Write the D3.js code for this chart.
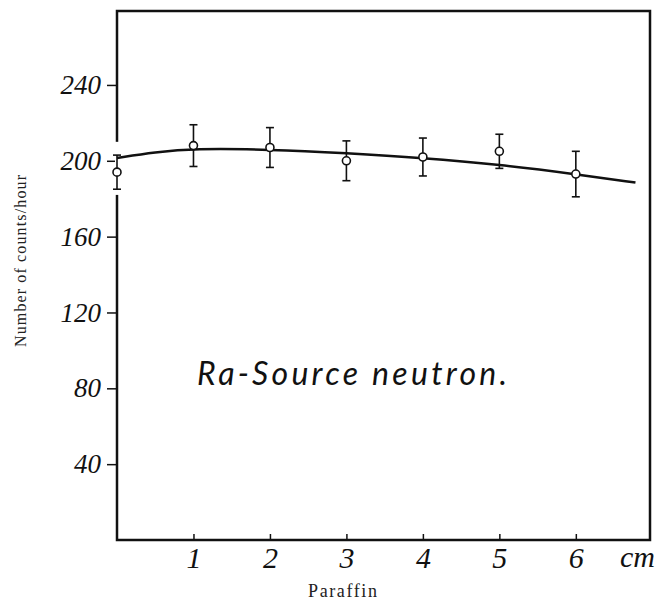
<!DOCTYPE html>
<head>
  <meta charset="utf-8">
  <script src="https://d3js.org/d3.v7.min.js"></script>
  <style>
    body { margin: 0; background: #fff; }
    .tick text { font-family: 'Liberation Serif', serif; font-style: italic; fill: #111; }
    .domain { display: none; }
  </style>
</head>
<body>
  <div id="my_dataviz"></div>
  <script>
    // paraffin thickness (cm) and measured counts/hour
    var thickness = [0, 1, 2, 3, 4, 5, 6];
    var counts = [194, 208, 207, 200, 202, 205, 193];
    var errors = [9, 11, 10.5, 10.5, 10, 9, 12];

    // smooth fitted curve
    var curveX = [0, 0.5, 1, 2, 3, 4, 5, 6, 6.78];
    var curveY = [201.5, 204.5, 206.5, 206, 204, 201.5, 198, 193, 188.5];

    var yTicks = [40, 80, 120, 160, 200, 240];
    var xTicks = [1, 2, 3, 4, 5, 6];

    var margin = {top: 11, right: 12, bottom: 61, left: 117},
      width = 662 - margin.left - margin.right,
      height = 601 - margin.top - margin.bottom;

    var svg = d3.select("#my_dataviz")
      .append("svg")
      .attr("width", 662)
      .attr("height", 601);

    var g = svg.append("g")
      .attr("transform", "translate(" + margin.left + "," + margin.top + ")");

    var x = d3.scaleLinear()
      .domain([0, 6.97])
      .range([0, width]);

    var y = d3.scaleLinear()
      .domain([0, 279])
      .range([height, 0]);

    // y axis ticks
    var yAxis = g.append("g")
      .call(d3.axisLeft(y)
        .tickValues(yTicks)
        .tickSize(10)
        .tickPadding(6));
    yAxis.selectAll(".tick line").attr("stroke", "#111").attr("stroke-width", 1.5);
    yAxis.selectAll(".tick text").style("font-size", "27px");

    // x axis ticks (pointing inward)
    var xAxis = g.append("g")
      .attr("transform", "translate(0," + height + ")")
      .call(d3.axisBottom(x)
        .tickValues(xTicks)
        .tickFormat(d3.format("d"))
        .tickSize(-6)
        .tickPadding(7));
    xAxis.selectAll(".tick line").attr("stroke", "#111").attr("stroke-width", 1.5);
    xAxis.selectAll(".tick text").style("font-size", "30px");

    // frame
    g.append("path")
      .attr("d", "M0,0H" + width + "V" + height + "H0Z")
      .attr("fill", "none")
      .attr("stroke", "#111")
      .attr("stroke-width", 2.5);

    // gap in the left axis around the first error bar
    g.append("line")
      .attr("x1", x(0)).attr("x2", x(0))
      .attr("y1", y(210)).attr("y2", y(182))
      .attr("stroke", "#fff")
      .attr("stroke-width", 4);

    // fitted curve
    var line = d3.line()
      .x(d => x(d[0]))
      .y(d => y(d[1]))
      .curve(d3.curveBasis);

    g.append("path")
      .datum(d3.zip(curveX, curveY))
      .attr("d", line)
      .attr("fill", "none")
      .attr("stroke", "#111")
      .attr("stroke-width", 2.5);

    // error bars
    var pts = thickness.map((t, i) => ({t: t, v: counts[i], e: errors[i]}));

    var bars = g.append("g")
      .selectAll("g")
      .data(pts)
      .enter()
      .append("g")
      .attr("stroke", "#111")
      .attr("stroke-width", 1.6);

    bars.append("line")
      .attr("x1", d => x(d.t)).attr("x2", d => x(d.t))
      .attr("y1", d => y(d.v + d.e)).attr("y2", d => y(d.v - d.e));
    bars.append("line")
      .attr("x1", d => x(d.t) - 4).attr("x2", d => x(d.t) + 4)
      .attr("y1", d => y(d.v + d.e)).attr("y2", d => y(d.v + d.e));
    bars.append("line")
      .attr("x1", d => x(d.t) - 4).attr("x2", d => x(d.t) + 4)
      .attr("y1", d => y(d.v - d.e)).attr("y2", d => y(d.v - d.e));
    bars.append("circle")
      .attr("cx", d => x(d.t))
      .attr("cy", d => y(d.v))
      .attr("r", 4)
      .attr("fill", "#fff");

    // handwritten label inside the plot
    g.append("text")
      .attr("x", 197 - margin.left)
      .attr("y", 385 - margin.top)
      .attr("textLength", 310)
      .style("font-family", "'Lato', sans-serif")
      .style("font-size", "32px")
      .style("font-style", "italic")
      .style("fill", "#111")
      .text("Ra-Source neutron.");

    // unit
    svg.append("text")
      .attr("x", 620)
      .attr("y", 567)
      .style("font-family", "'Liberation Serif', serif")
      .style("font-style", "italic")
      .style("font-size", "30px")
      .style("fill", "#111")
      .text("cm");

    // axis titles
    svg.append("text")
      .attr("x", 308)
      .attr("y", 597)
      .attr("textLength", 69)
      .style("font-family", "'Liberation Serif', serif")
      .style("font-size", "18px")
      .style("fill", "#222")
      .text("Paraffin");

    svg.append("text")
      .attr("transform", "translate(26,347) rotate(-90)")
      .attr("textLength", 172)
      .style("font-family", "'Liberation Serif', serif")
      .style("font-size", "16px")
      .style("fill", "#222")
      .text("Number of counts/hour");
  </script>
</body>
